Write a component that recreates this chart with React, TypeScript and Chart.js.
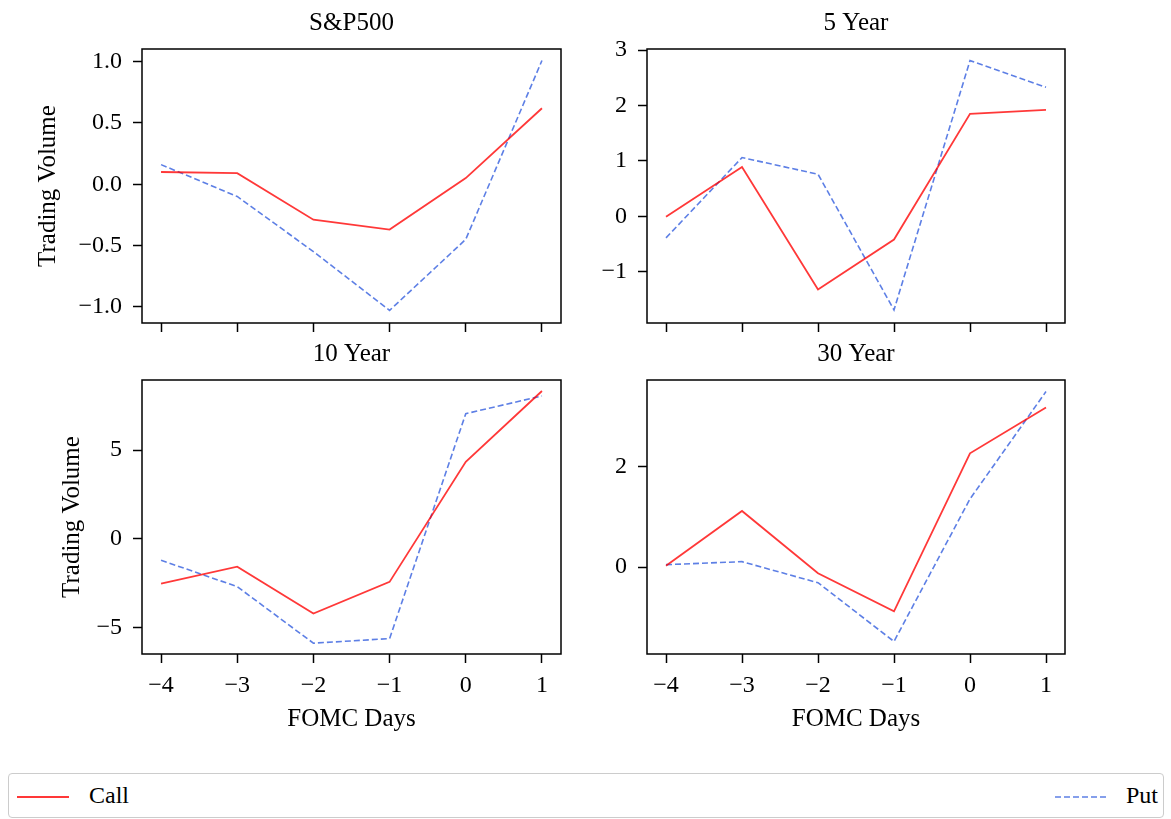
import React, { useEffect, useRef } from "react";
import { Chart, registerables } from "chart.js";

Chart.register(...registerables);

// ---------- data ----------
const DAYS = [-4, -3, -2, -1, 0, 1];
const X_TICKS = [-4, -3, -2, -1, 0, 1];
const X_LIM = [-4.25, 1.25];

const SP_CALL = [0.1, 0.09, -0.29, -0.37, 0.05, 0.62];
const SP_PUT = [0.16, -0.1, -0.55, -1.03, -0.45, 1.01];
const Y5_CALL = [-0.01, 0.89, -1.32, -0.42, 1.85, 1.92];
const Y5_PUT = [-0.39, 1.06, 0.76, -1.69, 2.81, 2.33];
const Y10_CALL = [-2.54, -1.58, -4.23, -2.44, 4.33, 8.33];
const Y10_PUT = [-1.22, -2.71, -5.9, -5.64, 7.05, 8.05];
const Y30_CALL = [0.03, 1.12, -0.12, -0.88, 2.27, 3.18];
const Y30_PUT = [0.05, 0.11, -0.31, -1.48, 1.36, 3.5];

const SP_TICKS = [-1, -0.5, 0, 0.5, 1];
const Y5_TICKS = [-1, 0, 1, 2, 3];
const Y10_TICKS = [-5, 0, 5];
const Y30_TICKS = [0, 2];

const SP_LIM = [-1.133, 1.104];
const Y5_LIM = [-1.926, 3.02];
const Y10_LIM = [-6.51, 8.95];
const Y30_LIM = [-1.73, 3.73];

const TITLES = ["S&P500", "5 Year", "10 Year", "30 Year"];
const SERIES_NAMES = ["Call", "Put"];
const X_LABEL = "FOMC Days";
const Y_LABEL = "Trading Volume";

// ---------- style ----------
const FAMILY = "'Liberation Serif', 'Times New Roman', serif";
const RED = "rgba(255,0,0,0.78)";
const BLUE = "rgba(65,105,225,0.85)";
const DASH = [6, 3];

const fmt = (v: number, dec: number) =>
  (v < 0 ? "\u2212" : "") + Math.abs(v).toFixed(dec);

const framePlugin = {
  id: "frame",
  afterDraw(chart: any) {
    const { ctx, chartArea: a } = chart;
    ctx.save();
    ctx.strokeStyle = "#000";
    ctx.lineWidth = 1.5;
    ctx.strokeRect(a.left, a.top, a.right - a.left, a.bottom - a.top);
    ctx.restore();
  },
};

type PanelProps = {
  left: number;
  top: number;
  width: number;
  height: number;
  yWidth: number;
  padRight: number;
  xHeight: number;
  title: string;
  call: number[];
  put: number[];
  yTicks: number[];
  yLim: number[];
  yDec: number;
  showX: boolean;
  showYTitle: boolean;
  yTitlePad: number;
};

function Panel(p: PanelProps) {
  const ref = useRef<HTMLCanvasElement | null>(null);
  useEffect(() => {
    if (!ref.current) return;
    const tickFont = { family: FAMILY, size: 24, weight: "normal" as const };
    const labelFont = { family: FAMILY, size: 25, weight: "normal" as const };
    const grid = {
      drawOnChartArea: false,
      drawTicks: true,
      tickLength: 9,
      tickWidth: 1.5,
      tickColor: "#000",
    };
    const chart = new Chart(ref.current, {
      type: "line",
      data: {
        datasets: [
          {
            label: SERIES_NAMES[0],
            data: DAYS.map((d, i) => ({ x: d, y: p.call[i] })),
            borderColor: RED,
            borderWidth: 1.8,
            pointRadius: 0,
            tension: 0,
            fill: false,
          },
          {
            label: SERIES_NAMES[1],
            data: DAYS.map((d, i) => ({ x: d, y: p.put[i] })),
            borderColor: BLUE,
            borderWidth: 1.6,
            borderDash: DASH,
            pointRadius: 0,
            tension: 0,
            fill: false,
          },
        ],
      },
      options: {
        animation: false,
        responsive: false,
        events: [],
        layout: { padding: { left: 0, right: p.padRight, top: 0, bottom: 0 } },
        plugins: {
          legend: { display: false },
          tooltip: { enabled: false },
          title: {
            display: true,
            text: p.title,
            color: "#000",
            fullSize: false,
            font: labelFont,
            padding: { top: 8.5, bottom: 10.5 },
          },
        },
        scales: {
          x: {
            type: "linear",
            min: X_LIM[0],
            max: X_LIM[1],
            afterBuildTicks: (s: any) => {
              s.ticks = X_TICKS.map((v) => ({ value: v }));
            },
            afterFit: (s: any) => {
              s.height = p.xHeight;
            },
            grid,
            border: { display: false },
            ticks: {
              color: p.showX ? "#000" : "rgba(0,0,0,0)",
              font: tickFont,
              padding: 8,
              maxRotation: 0,
              autoSkip: false,
              callback: (v: any) => fmt(Number(v), 0),
            },
            title: {
              display: p.showX,
              text: X_LABEL,
              color: "#000",
              font: labelFont,
              padding: { top: 0, bottom: 16.5 },
            },
          },
          y: {
            type: "linear",
            min: p.yLim[0],
            max: p.yLim[1],
            afterBuildTicks: (s: any) => {
              s.ticks = p.yTicks.map((v) => ({ value: v }));
            },
            afterFit: (s: any) => {
              s.width = p.yWidth;
            },
            grid,
            border: { display: false },
            ticks: {
              color: "#000",
              font: tickFont,
              padding: 11,
              autoSkip: false,
              callback: (v: any) => fmt(Number(v), p.yDec),
            },
            title: {
              display: p.showYTitle,
              text: Y_LABEL,
              color: "#000",
              font: labelFont,
              padding: { top: p.yTitlePad, bottom: 0 },
            },
          },
        },
      } as any,
      plugins: [framePlugin],
    });
    return () => chart.destroy();
  }, []);
  return (
    <canvas
      ref={ref}
      width={p.width}
      height={p.height}
      style={{
        position: "absolute",
        left: p.left,
        top: p.top,
        width: p.width,
        height: p.height,
      }}
    />
  );
}

function Legend() {
  const text: React.CSSProperties = {
    position: "absolute",
    fontFamily: FAMILY,
    fontSize: 24,
    lineHeight: "24px",
    color: "#000",
    top: 9,
    whiteSpace: "nowrap",
  };
  return (
    <div
      style={{
        position: "absolute",
        left: 8,
        top: 773,
        width: 1156,
        height: 45,
        boxSizing: "border-box",
        border: "1px solid #cccccc",
        borderRadius: 4,
        background: "#fff",
      }}
    >
      <svg
        width={1154}
        height={43}
        style={{ position: "absolute", left: 0, top: 0 }}
      >
        <line x1={8} y1={23} x2={60} y2={23} stroke={RED} strokeWidth={1.8} />
        <line
          x1={1046}
          y1={23}
          x2={1099}
          y2={23}
          stroke={BLUE}
          strokeWidth={1.6}
          strokeDasharray={DASH.join(",")}
        />
      </svg>
      <span style={{ ...text, left: 80 }}>{SERIES_NAMES[0]}</span>
      <span style={{ ...text, left: 1117 }}>{SERIES_NAMES[1]}</span>
    </div>
  );
}

export default function App() {
  return (
    <div
      style={{
        position: "absolute",
        left: 0,
        top: 0,
        width: 1171,
        height: 819,
        background: "#fff",
        overflow: "hidden",
      }}
    >
      <Panel
        left={0}
        top={0}
        width={600}
        height={353}
        yWidth={142}
        padRight={39}
        xHeight={30}
        title={TITLES[0]}
        call={SP_CALL}
        put={SP_PUT}
        yTicks={SP_TICKS}
        yLim={SP_LIM}
        yDec={1}
        showX={false}
        showYTitle={true}
        yTitlePad={33}
      />
      <Panel
        left={585}
        top={0}
        width={586}
        height={353}
        yWidth={62}
        padRight={106}
        xHeight={30}
        title={TITLES[1]}
        call={Y5_CALL}
        put={Y5_PUT}
        yTicks={Y5_TICKS}
        yLim={Y5_LIM}
        yDec={0}
        showX={false}
        showYTitle={false}
        yTitlePad={0}
      />
      <Panel
        left={0}
        top={331}
        width={600}
        height={420}
        yWidth={142}
        padRight={39}
        xHeight={97}
        title={TITLES[2]}
        call={Y10_CALL}
        put={Y10_PUT}
        yTicks={Y10_TICKS}
        yLim={Y10_LIM}
        yDec={0}
        showX={true}
        showYTitle={true}
        yTitlePad={57}
      />
      <Panel
        left={585}
        top={331}
        width={586}
        height={420}
        yWidth={62}
        padRight={106}
        xHeight={97}
        title={TITLES[3]}
        call={Y30_CALL}
        put={Y30_PUT}
        yTicks={Y30_TICKS}
        yLim={Y30_LIM}
        yDec={0}
        showX={true}
        showYTitle={false}
        yTitlePad={0}
      />
      <Legend />
    </div>
  );
}
